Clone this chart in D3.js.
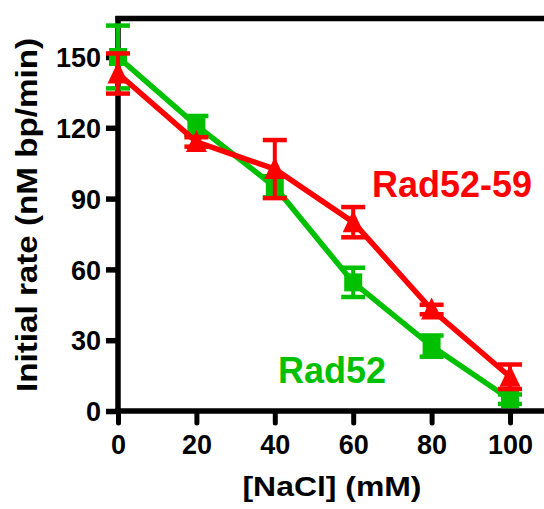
<!DOCTYPE html>
<html><head><meta charset="utf-8">
<script src="https://cdn.jsdelivr.net/npm/d3@7"></script>
<style>body{margin:0;background:#fff}svg{display:block}</style>
</head><body><svg id="c" width="544" height="509"></svg>
<script>
const nacl = [0, 20, 40, 60, 80, 100];
const rad52 = [150, 121, 95, 54.5, 27.5, 5];
const rad52Err = [13.3, 4, 4.5, 6.2, 4.5, 2];
const rad5259 = [143, 114, 102.5, 80, 43, 14.5];
const rad5259Err = [8.5, 2, 12.3, 6.4, 2, 5.2];
const xTicks = [0, 20, 40, 60, 80, 100];
const yTicks = [0, 30, 60, 90, 120, 150];
const yMax = 166.3;

const svg = d3.select("#c");
const x = d3.scaleLinear().domain([0, 100]).range([118, 510]);
const y = d3.scaleLinear().domain([0, yMax]).range([411, 18.5]);
const font = "'Liberation Sans', Arial, sans-serif";

// frame lines
svg.append("line").attr("x1", 115.5).attr("x2", 544).attr("y1", y(yMax)).attr("y2", y(yMax))
  .attr("stroke", "#000").attr("stroke-width", 5.5);
svg.append("line").attr("x1", 115.5).attr("x2", 544).attr("y1", y(0)).attr("y2", y(0))
  .attr("stroke", "#000").attr("stroke-width", 5.5);
svg.append("line").attr("x1", x(0)).attr("x2", x(0)).attr("y1", 16).attr("y2", 413.5)
  .attr("stroke", "#000").attr("stroke-width", 5.5);

// axes
const xAxis = svg.append("g").attr("transform", `translate(0,${y(0)})`)
  .call(d3.axisBottom(x).tickValues(xTicks).tickSize(13).tickSizeOuter(0).tickPadding(8));
xAxis.select(".domain").remove();
xAxis.selectAll(".tick line").attr("stroke", "#000").attr("stroke-width", 5).attr("stroke-linecap", "round").attr("y1", 2).attr("y2", 12);
xAxis.selectAll(".tick text").attr("font-family", font).attr("font-weight", "bold").attr("font-size", 27)
  .attr("fill", "#000").attr("dy", "0.72em").attr("y", 24);

const yAxis = svg.append("g").attr("transform", `translate(${x(0)},0)`)
  .call(d3.axisLeft(y).tickValues(yTicks).tickSize(12).tickSizeOuter(0).tickPadding(5));
yAxis.select(".domain").remove();
yAxis.selectAll(".tick line").attr("stroke", "#000").attr("stroke-width", 5.5);
yAxis.selectAll(".tick text").attr("font-family", font).attr("font-weight", "bold").attr("font-size", 27)
  .attr("fill", "#000").attr("x", -17).attr("dy", "0.36em");

// axis titles
svg.append("text").attr("x", 332).attr("y", 496).attr("text-anchor", "middle")
  .attr("font-family", font).attr("font-weight", "bold").attr("font-size", 28)
  .attr("textLength", 179).attr("lengthAdjust", "spacingAndGlyphs").text("[NaCl] (mM)");
svg.append("text").attr("transform", "translate(37,215) rotate(-90)").attr("text-anchor", "middle")
  .attr("font-family", font).attr("font-weight", "bold").attr("font-size", 30)
  .attr("textLength", 354).attr("lengthAdjust", "spacingAndGlyphs").text("Initial rate (nM bp/min)");

function series(vals, errs, color, marker) {
  const g = svg.append("g");
  const pts = nacl.map((d, i) => ({ x: d, v: vals[i], e: errs[i] }));
  g.append("path").datum(pts)
    .attr("d", d3.line().x(d => x(d.x)).y(d => y(d.v)))
    .attr("fill", "none").attr("stroke", color).attr("stroke-width", 5.5);
  const eb = g.selectAll(".eb").data(pts).enter().append("g");
  eb.append("line").attr("x1", d => x(d.x)).attr("x2", d => x(d.x))
    .attr("y1", d => y(d.v + d.e)).attr("y2", d => y(d.v - d.e))
    .attr("stroke", color).attr("stroke-width", 4);
  [1, -1].forEach(s => {
    eb.append("line").attr("x1", d => x(d.x) - 12).attr("x2", d => x(d.x) + 12)
      .attr("y1", d => y(d.v + s * d.e)).attr("y2", d => y(d.v + s * d.e))
      .attr("stroke", color).attr("stroke-width", 4.5);
  });
  g.selectAll(".m").data(pts).enter().append("path")
    .attr("transform", d => `translate(${x(d.x)},${y(d.v)})`)
    .attr("d", marker).attr("fill", color);
}
const square = "M-9,-9H9V9H-9Z";
const triangle = "M0,-12L10.5,10H-10.5Z";
series(rad52, rad52Err, "#00c000", square);
series(rad5259, rad5259Err, "#ff0000", triangle);

svg.append("text").attr("x", 278).attr("y", 383).attr("font-family", font).attr("font-weight", "bold")
  .attr("font-size", 36).attr("fill", "#00c000").text("Rad52");
svg.append("text").attr("x", 372).attr("y", 197).attr("font-family", font).attr("font-weight", "bold")
  .attr("font-size", 36).attr("fill", "#ff0000").text("Rad52-59");
</script></body></html>
